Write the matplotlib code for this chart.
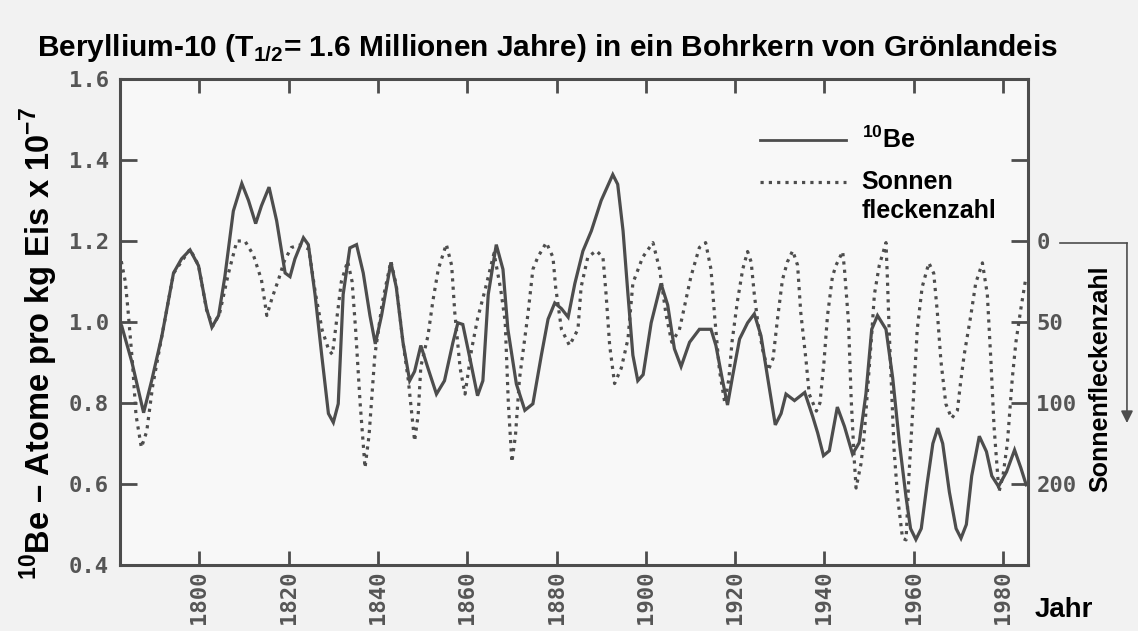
import matplotlib
matplotlib.use("Agg")
import matplotlib.pyplot as plt
from matplotlib.lines import Line2D

plt.rcParams['font.family'] = ['Liberation Sans', 'DejaVu Sans']
plt.rcParams['mathtext.fontset'] = 'custom'
plt.rcParams['mathtext.rm'] = 'Liberation Sans'
plt.rcParams['mathtext.bf'] = 'Liberation Sans:bold'

# 10Be-Konzentration (Atome pro kg Eis x 10^-7)
be_jahr = [1782.6, 1784.9, 1787.5, 1789.3, 1791.6, 1794.2, 1796.0, 1797.9, 1799.8, 1801.6,
           1802.8, 1804.3, 1805.7, 1807.6, 1809.5, 1811.0, 1812.6, 1813.9, 1815.6, 1817.3,
           1819.2, 1820.3, 1821.4, 1823.3, 1824.4, 1825.9, 1827.4, 1828.9, 1830.0, 1831.1,
           1832.2, 1833.7, 1835.2, 1836.7, 1838.2, 1839.4, 1840.8, 1842.9, 1844.1, 1845.6,
           1847.1, 1848.2, 1849.6, 1851.2, 1853.1, 1854.9, 1856.8, 1857.9, 1859.0, 1860.6,
           1862.3, 1863.5, 1864.7, 1866.5, 1868.0, 1869.1, 1871.0, 1872.9, 1874.7, 1876.6,
           1878.1, 1879.6, 1881.1, 1882.6, 1884.1, 1885.9, 1887.8, 1890.0, 1892.6, 1893.7,
           1894.9, 1896.0, 1897.1, 1898.2, 1899.4, 1901.2, 1903.4, 1904.9, 1906.4, 1907.9,
           1909.8, 1912.0, 1914.6, 1915.7, 1917.2, 1918.3, 1919.5, 1921.0, 1922.8, 1924.3,
           1925.8, 1927.3, 1929.0, 1930.3, 1931.4, 1933.3, 1935.6, 1937.4, 1938.5, 1939.8,
           1941.1, 1942.9, 1944.5, 1946.3, 1947.8, 1949.3, 1950.6, 1951.9, 1953.8, 1955.3,
           1956.8, 1958.3, 1959.3, 1960.5, 1961.7, 1963.0, 1964.3, 1965.4, 1966.5, 1968.0,
           1969.5, 1970.6, 1971.8, 1973.0, 1974.7, 1976.3, 1977.5, 1979.0, 1980.8, 1982.6,
           1984.0, 1985.2]
be_wert = [0.99, 0.90, 0.776, 0.855, 0.966, 1.121, 1.156, 1.178, 1.139, 1.033,
           0.987, 1.016, 1.112, 1.274, 1.342, 1.30, 1.243, 1.287, 1.333, 1.25,
           1.121, 1.112, 1.156, 1.208, 1.191, 1.068, 0.918, 0.774, 0.752, 0.798,
           1.068, 1.183, 1.191, 1.121, 1.016, 0.946, 1.016, 1.147, 1.086, 0.95,
           0.855, 0.878, 0.942, 0.886, 0.822, 0.855, 0.95, 0.998, 0.994, 0.91,
           0.818, 0.855, 1.068, 1.191, 1.13, 0.982, 0.847, 0.782, 0.798, 0.918,
           1.007, 1.047, 1.033, 1.012, 1.095, 1.175, 1.225, 1.30, 1.364, 1.34,
           1.225, 1.068, 0.918, 0.855, 0.87, 0.998, 1.095, 1.042, 0.934, 0.89,
           0.95, 0.982, 0.982, 0.942, 0.855, 0.795, 0.87, 0.958, 0.998, 1.02,
           0.966, 0.862, 0.746, 0.774, 0.822, 0.806, 0.826, 0.766, 0.726, 0.67,
           0.682, 0.79, 0.742, 0.674, 0.702, 0.822, 0.982, 1.016, 0.982, 0.862,
           0.702, 0.567, 0.49, 0.463, 0.49, 0.60, 0.70, 0.738, 0.70, 0.58,
           0.49, 0.466, 0.50, 0.62, 0.718, 0.68, 0.62, 0.594, 0.63, 0.684,
           0.64, 0.598]

# Sonnenfleckenzahl (rechte Achse, nach unten zunehmend)
sf_jahr = [1782.5, 1783.4, 1784.0, 1785.0, 1785.8, 1787.0, 1788.2, 1789.5, 1791.5, 1794.2,
           1797.9, 1799.8, 1801.6, 1803.0, 1804.5, 1806.5, 1808.4, 1810.2, 1812.1, 1813.9,
           1815.1, 1816.3, 1817.7, 1819.0, 1820.6, 1822.5, 1824.5, 1826.0, 1827.5, 1829.0,
           1829.8, 1830.7, 1831.8, 1833.2, 1834.2, 1835.0, 1836.0, 1837.1, 1838.0, 1839.3,
           1841.0, 1842.9, 1844.1, 1845.6, 1846.8, 1848.2, 1849.0, 1849.6, 1851.2, 1852.3,
           1853.5, 1855.3, 1856.5, 1857.2, 1858.4, 1859.5, 1861.0, 1862.3, 1864.0, 1866.0,
           1867.5, 1868.5, 1869.2, 1870.0, 1870.8, 1871.7, 1873.6, 1874.7, 1875.8, 1877.7,
           1879.2, 1879.8, 1881.1, 1882.9, 1884.8, 1885.5, 1887.0, 1888.9, 1890.4, 1891.1,
           1891.9, 1893.0, 1894.5, 1896.0, 1897.1, 1899.3, 1901.6, 1903.1, 1904.5, 1905.8,
           1907.5, 1908.3, 1910.1, 1912.0, 1913.4, 1914.6, 1915.4, 1916.5, 1917.7, 1918.6,
           1919.3, 1920.5, 1921.7, 1922.8, 1923.6, 1924.3, 1925.1, 1926.2, 1927.4, 1928.5,
           1929.5, 1930.6, 1931.7, 1932.9, 1934.0, 1934.7, 1935.9, 1936.6, 1938.2, 1939.0,
           1939.9, 1940.7, 1941.8, 1942.6, 1944.1, 1944.5, 1945.4, 1946.0, 1946.7, 1947.1,
           1948.2, 1948.9, 1949.8, 1950.6, 1951.2, 1952.3, 1953.8, 1954.1, 1954.5, 1955.6,
           1956.4, 1957.5, 1958.3, 1958.9, 1960.0, 1960.8, 1961.9, 1963.4, 1964.5, 1965.3,
           1966.1, 1967.2, 1968.5, 1969.8, 1970.5, 1971.3, 1972.8, 1973.9, 1975.4, 1976.5,
           1977.3, 1978.0, 1979.1, 1980.0, 1981.0, 1982.1, 1982.9, 1984.0, 1985.0]
sf_wert = [12.5, 25, 42.5, 75, 107.5, 127.5, 117.5, 90, 60, 20,
           5, 15, 42.5, 52.5, 45, 20, 0, 0, 8.75, 24,
           46, 35, 24, 12.5, 4, 2.5, 5, 32.5, 55, 67.5,
           70, 50, 25, 12.5, 25, 55, 100, 140, 120, 70.5,
           37.5, 12.5, 27.5, 62.5, 86, 123.5, 107.5, 77.5, 58.5, 37,
           17.5, 2, 15, 44, 78.5, 94.5, 66.5, 48, 30, 7.5,
           30, 50, 100, 136.5, 120, 85, 45, 17.5, 10, 1,
           10, 28.5, 54.5, 64.5, 54.5, 28.5, 10, 6, 10, 33,
           64.5, 88, 78.5, 60.5, 26, 10, 1, 17.5, 45, 62.5,
           55, 45, 22, 4, 1, 17.5, 46, 80, 100, 85,
           62.5, 37.5, 17.5, 6.5, 13, 33, 50.5, 67.5, 80, 72.5,
           48, 24, 13, 6, 15, 44, 74, 94.5, 105, 100,
           75, 46, 22, 15, 6.5, 17.5, 50, 97.5, 135.5, 152.5,
           137.5, 120.5, 87.5, 57.5, 33, 15, 1, 22, 54.5, 128.5,
           158, 183.5, 184.5, 147, 94.5, 54.5, 28.5, 13.5, 20, 44,
           74, 100.5, 109.5, 104.5, 87.5, 70.5, 46, 26, 13.5, 33,
           74, 114.5, 155, 145, 124.5, 84.5, 62.5, 42, 25]

x_ticks = [1800, 1820, 1840, 1860, 1880, 1900, 1920, 1940, 1960, 1980]
y_ticks = [0.4, 0.6, 0.8, 1.0, 1.2, 1.4, 1.6]
sf_ticks = [-50, 0, 50, 100, 150]
sf_tick_labels = ['', '0', '50', '100', '200']

grau = '#4d4d4d'
mono = 'DejaVu Sans Mono'
tick_font = dict(family=mono, fontsize=16, color='#555555', weight='bold')

fig = plt.figure(figsize=(11.38, 6.31), dpi=100, facecolor='#f2f2f2')
ax = fig.add_axes([0.1054, 0.1046, 0.7979, 0.7702])
ax2 = ax.twinx()

ax.plot(be_jahr, be_wert, color=grau, lw=2.3, solid_joinstyle='miter')
ax2.plot(sf_jahr, sf_wert, color=grau, lw=2.3, linestyle=(0, (1.0, 1.6)),
         dash_capstyle='butt')

ax.set_zorder(2)
ax2.set_zorder(1)
ax.patch.set_visible(False)
ax2.patch.set_visible(True)
ax2.patch.set_facecolor('#f8f8f8')

ax.set_xlim(1782.2, 1985.6)
ax.set_ylim(0.4, 1.6)
ax2.set_ylim(200, -100)

ax.set_xticks(x_ticks)
ax.set_xticklabels([str(j) for j in x_ticks], rotation=90, **tick_font)
ax.set_yticks(y_ticks)
ax.set_yticklabels([f'{v:.1f}' for v in y_ticks], **tick_font)
ax2.set_yticks(sf_ticks)
ax2.set_yticklabels(sf_tick_labels, **tick_font)

ax.tick_params(axis='x', direction='in', length=10, width=2, color=grau,
               top=True, pad=4)
ax.tick_params(axis='y', direction='in', length=12, width=2, color=grau,
               right=False, pad=8)
ax2.tick_params(axis='y', direction='in', length=12, width=2, color=grau, pad=6)

for s in ax.spines.values():
    s.set_color(grau)
    s.set_linewidth(2.2)
for s in ax2.spines.values():
    s.set_visible(False)

# Legende
ax.plot([0.705, 0.80], [0.8745, 0.8745], transform=ax.transAxes, color=grau, lw=2.0)
ax.plot([0.705, 0.80], [0.788, 0.788], transform=ax.transAxes, color=grau, lw=2.3,
        linestyle=(0, (1.0, 1.6)), dash_capstyle='butt')
ax.text(0.817, 0.8745, '$^{\\mathbf{10}}$Be', transform=ax.transAxes, fontsize=18,
        weight='bold', va='center')
ax.text(0.817, 0.788, 'Sonnen', transform=ax.transAxes, fontsize=18,
        weight='bold', va='center')
ax.text(0.817, 0.728, 'fleckenzahl', transform=ax.transAxes, fontsize=18,
        weight='bold', va='center')

fig.text(0.0325, 0.9235,
         'Beryllium-10 (T$_{\\mathbf{1/2}}$= 1.6 Millionen Jahre) in ein Bohrkern von Grönlandeis',
         fontsize=21.5, weight='bold', va='center', ha='left')
fig.text(0.034, 1 - 344 / 631,
         '$^{\\mathbf{10}}$Be – Atome pro kg Eis x 10$^{\\mathbf{-7}}$',
         rotation=90, fontsize=23.5, weight='bold', ha='center', va='center')
fig.text(0.9666, 1 - 379 / 631, 'Sonnenfleckenzahl', rotation=90, fontsize=18,
         weight='bold', ha='center', va='center')
fig.text(1035 / 1138, 1 - 610 / 631, 'Jahr', fontsize=20, weight='bold',
         ha='left', va='center')

# Pfeil rechts
fig.add_artist(Line2D([0.9315, 0.9903], [0.6149, 0.6149], transform=fig.transFigure,
                      color=grau, lw=1.2))
ax.annotate('', xy=(0.9903, 0.3296), xytext=(0.9903, 0.6149),
            xycoords='figure fraction', textcoords='figure fraction',
            arrowprops=dict(arrowstyle='-|>', color=grau, lw=1.2,
                            mutation_scale=18, shrinkA=0, shrinkB=0))

fig.savefig('out.png', dpi=100, facecolor=fig.get_facecolor())
